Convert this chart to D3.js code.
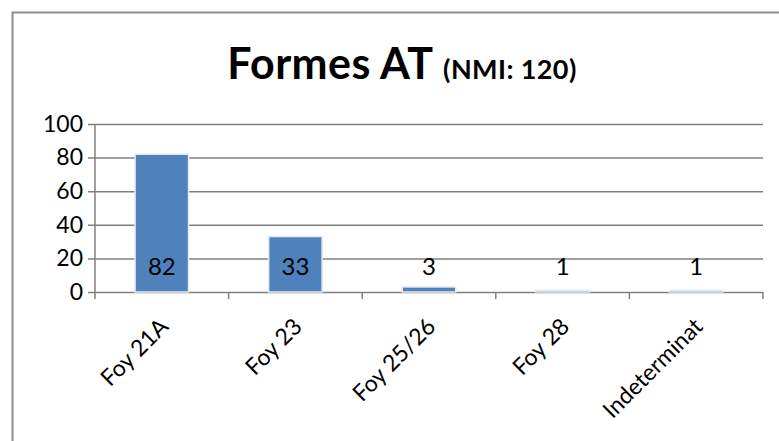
<!DOCTYPE html>
<html>
<head>
<meta charset="utf-8">
<script src="https://cdn.jsdelivr.net/npm/d3@7"></script>
<style>
  body { margin: 0; background: #fff; }
  text { font-family: Lato, "Open Sans", sans-serif; fill: #000; }
</style>
</head>
<body>
<div id="chart"></div>
<script>
// chart data
var categories = ["Foy 21A", "Foy 23", "Foy 25/26", "Foy 28", "Indeterminat"];
var counts = [82, 33, 3, 1, 1];
var yTicks = [0, 20, 40, 60, 80, 100];

var width = 779, height = 441;
var margin = {top: 124, right: 16, bottom: 149, left: 95};

var svg = d3.select("#chart").append("svg")
    .attr("width", width)
    .attr("height", height);

// outer frame (only top and left edges visible)
svg.append("path")
    .attr("d", "M12.5," + height + "V12.5H" + width)
    .attr("fill", "none")
    .attr("stroke", "#8e8e8e")
    .attr("stroke-width", 2);

// title
var title = svg.append("text")
    .attr("x", 402)
    .attr("y", 79)
    .attr("text-anchor", "middle")
    .style("font-weight", "bold")
    .style("letter-spacing", "0.4px");
title.append("tspan").style("font-size", "43px").text("Formes AT ");
title.append("tspan").style("font-size", "27px").text("(NMI: 120)");

var plotW = width - margin.left - margin.right;
var plotH = height - margin.top - margin.bottom;

var x = d3.scaleBand()
    .domain(categories)
    .range([0, plotW])
    .paddingInner(0.6)
    .paddingOuter(0.3);

var y = d3.scaleLinear()
    .domain([0, 100])
    .range([plotH, 0]);

var plot = svg.append("g")
    .attr("transform", `translate(${margin.left},${margin.top})`);

// gridlines + y axis
var yAxis = plot.append("g")
    .call(d3.axisLeft(y).tickValues(yTicks).tickSize(-plotW).tickPadding(12));
yAxis.select(".domain").remove();
yAxis.selectAll(".tick line")
    .attr("stroke", "#808080")
    .attr("stroke-width", 1.5)
    .attr("x1", -7);
yAxis.selectAll(".tick text")
    .style("font-size", "23px")
    .style("font-family", "Lato, 'Open Sans', sans-serif")
    .attr("fill", "#000")
    .attr("x", -12);

// y axis line
plot.append("line")
    .attr("x1", 0).attr("x2", 0)
    .attr("y1", 0).attr("y2", plotH)
    .attr("stroke", "#808080")
    .attr("stroke-width", 1.5);

// category boundary ticks below the axis
var step = plotW / categories.length;
plot.append("g").selectAll("line")
    .data(d3.range(categories.length + 1))
    .enter().append("line")
    .attr("x1", d => d * step).attr("x2", d => d * step)
    .attr("y1", plotH).attr("y2", plotH + 7)
    .attr("stroke", "#808080")
    .attr("stroke-width", 1.5);

// bars
plot.append("g").selectAll("rect")
    .data(counts)
    .enter().append("rect")
    .attr("x", (d, i) => x(categories[i]))
    .attr("y", d => y(d))
    .attr("width", x.bandwidth())
    .attr("height", d => plotH - y(d))
    .attr("fill", "#4f81bd")
    .attr("stroke", "#e4e9f0")
    .attr("stroke-width", 1.5);

// value labels
plot.append("g").selectAll("text")
    .data(counts)
    .enter().append("text")
    .attr("x", (d, i) => x(categories[i]) + x.bandwidth() / 2)
    .attr("y", plotH - 17)
    .attr("text-anchor", "middle")
    .style("font-size", "24px")
    .text(d => d);

// rotated category labels
plot.append("g").selectAll("text")
    .data(categories)
    .enter().append("text")
    .attr("text-anchor", "end")
    .attr("transform", d => {
        let cx = x(d) + x.bandwidth() / 2 + 8;
        return `translate(${cx},${plotH + 36}) rotate(-45)`;
    })
    .style("font-size", "23px")
    .text(d => d);
</script>
</body>
</html>
